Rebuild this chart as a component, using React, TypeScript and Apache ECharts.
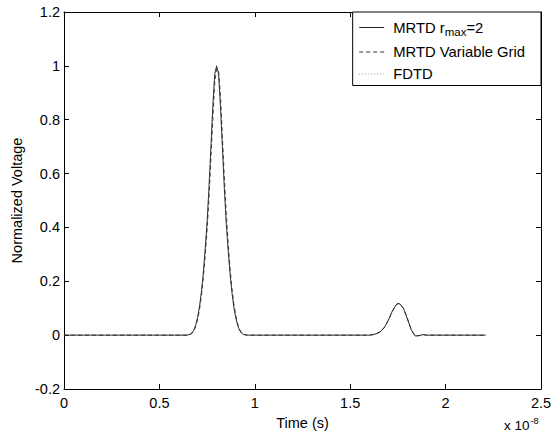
import React, { useEffect, useRef } from "react";
import * as echarts from "echarts";

// time in units of 1e-8 s
const timeAxis = [
  0, 0.5, 0.6, 0.64,
  0.65, 0.66, 0.67, 0.68, 0.69, 0.7, 0.71, 0.72, 0.73, 0.74, 0.75, 0.76, 0.77, 0.78, 0.79, 0.8,
  0.81, 0.82, 0.83, 0.84, 0.85, 0.86, 0.87, 0.88, 0.89, 0.9, 0.91, 0.92, 0.93, 0.94, 0.95, 0.96,
  1.0, 1.5, 1.6,
  1.62, 1.64, 1.66, 1.68, 1.7, 1.72, 1.74,
  1.75,
  1.76, 1.78, 1.8, 1.82, 1.84, 1.86, 1.88, 1.9,
  2.0, 2.21,
];

const mrtdValues = [
  0, 0, 0, 0,
  0.001, 0.003, 0.008, 0.018, 0.037, 0.065, 0.105, 0.16, 0.23, 0.32, 0.42, 0.55, 0.7, 0.85, 0.97, 1.0,
  0.97, 0.85, 0.7, 0.55, 0.42, 0.32, 0.23, 0.16, 0.105, 0.065, 0.037, 0.018, 0.008, 0.003, 0.001, 0,
  0, 0, 0,
  0.002, 0.006, 0.014, 0.03, 0.056, 0.088, 0.112,
  0.118,
  0.116, 0.098, 0.06, 0.02, -0.003, -0.002, 0.002, 0,
  0, 0,
];

const variableGridValues = [
  0, 0, 0, 0,
  0.001, 0.002, 0.006, 0.015, 0.031, 0.057, 0.094, 0.145, 0.21, 0.295, 0.39, 0.51, 0.655, 0.8, 0.935, 0.99,
  0.985, 0.89, 0.74, 0.59, 0.455, 0.345, 0.25, 0.175, 0.117, 0.074, 0.043, 0.022, 0.01, 0.004, 0.001, 0,
  0, 0, 0,
  0.002, 0.006, 0.014, 0.029, 0.055, 0.087, 0.111,
  0.117,
  0.116, 0.099, 0.061, 0.021, -0.003, -0.002, 0.002, 0,
  0, 0,
];

const fdtdValues = [
  0, 0, 0, 0,
  0.001, 0.003, 0.008, 0.018, 0.037, 0.065, 0.105, 0.16, 0.23, 0.32, 0.42, 0.55, 0.7, 0.85, 0.965, 0.995,
  0.97, 0.855, 0.705, 0.555, 0.425, 0.322, 0.232, 0.162, 0.106, 0.066, 0.038, 0.018, 0.008, 0.003, 0.001, 0,
  0, 0, 0,
  0.002, 0.006, 0.014, 0.03, 0.056, 0.088, 0.112,
  0.118,
  0.116, 0.098, 0.06, 0.02, -0.003, -0.002, 0.002, 0,
  0, 0,
];

const seriesNames = ["MRTD r_max=2", "MRTD Variable Grid", "FDTD"];
const yTicks = [-0.2, 0, 0.2, 0.4, 0.6, 0.8, 1.0, 1.2];

const FONT = "Liberation Sans";

export default function App() {
  const ref = useRef<HTMLDivElement>(null);
  useEffect(() => {
    if (!ref.current) return;
    const chart = echarts.init(ref.current, null, { renderer: "svg" });
    const pair = (vals: number[]) => timeAxis.map((t, i) => [t, vals[i]]);
    const axisLine = { show: true, onZero: false, lineStyle: { color: "#000", width: 1 } };
    const tick = { show: true, inside: true, length: 5, lineStyle: { color: "#000" } };
    chart.setOption({
      animation: false,
      backgroundColor: "#fff",
      textStyle: { fontFamily: FONT },
      grid: { left: 64, right: 17, top: 12, bottom: 46, containLabel: false },
      legend: {
        right: 17,
        top: 12,
        orient: "vertical",
        data: seriesNames,
        itemWidth: 25,
        itemHeight: 14,
        itemGap: 7,
        padding: [8, 16, 4, 6],
        backgroundColor: "#fff",
        borderColor: "#000",
        borderWidth: 1,
        borderRadius: 0,
        itemStyle: { opacity: 0 },
        lineStyle: { width: 1 },
        formatter: (name: string) =>
          name === "MRTD r_max=2" ? "MRTD r{sub|max}=2" : name,
        textStyle: {
          fontFamily: FONT,
          fontSize: 14.8,
          color: "#000",
          padding: [0, 0, 0, 4],
          rich: {
            sub: { fontFamily: FONT, fontSize: 11.5, color: "#000", padding: [8, 0, 0, 0] },
          },
        },
      },
      xAxis: [
        {
          type: "value",
          min: 0,
          max: 2.5,
          interval: 0.5,
          axisLine,
          axisTick: tick,
          splitLine: { show: false },
          axisLabel: {
            color: "#000",
            fontSize: 14.5,
            fontFamily: FONT,
            margin: 6,
            formatter: (v: number) => String(+v.toFixed(1)),
          },
          name: "Time (s)",
          nameLocation: "middle",
          nameGap: 26,
          nameTextStyle: { color: "#000", fontSize: 14.5, fontFamily: FONT },
        },
        {
          type: "value",
          position: "top",
          min: 0,
          max: 2.5,
          interval: 0.5,
          axisLine,
          axisTick: tick,
          axisLabel: { show: false },
          splitLine: { show: false },
        },
      ],
      yAxis: [
        {
          type: "value",
          min: -0.2,
          max: 1.2,
          interval: 0.2,
          axisLine,
          axisTick: tick,
          splitLine: { show: false },
          axisLabel: {
            color: "#000",
            fontSize: 14.5,
            fontFamily: FONT,
            margin: 4,
            padding: [5, 0, 0, 0],
            formatter: (v: number) => {
              const r = +v.toFixed(1);
              return yTicks.includes(r) ? String(r) : "";
            },
          },
          name: "Normalized Voltage",
          nameLocation: "middle",
          nameGap: 35,
          nameTextStyle: { color: "#000", fontSize: 14.5, fontFamily: FONT },
        },
        {
          type: "value",
          position: "right",
          min: -0.2,
          max: 1.2,
          interval: 0.2,
          axisLine,
          axisTick: tick,
          axisLabel: { show: false },
          splitLine: { show: false },
        },
      ],
      graphic: [
        {
          type: "text",
          left: 504,
          top: 416,
          style: {
            text: "x 10{sup|-8}",
            fill: "#000",
            font: `13.5px ${FONT}`,
            rich: {
              sup: { fontFamily: FONT, fontSize: 9, fill: "#000", padding: [0, 0, 10, 1] },
            },
          },
        },
      ],
      series: [
        {
          name: seriesNames[0],
          type: "line",
          data: pair(mrtdValues),
          symbol: "none",
          lineStyle: { color: "#222", width: 0.9, type: "solid" },
          itemStyle: { color: "#222" },
          z: 3,
        },
        {
          name: seriesNames[1],
          type: "line",
          data: pair(variableGridValues),
          symbol: "none",
          lineStyle: { color: "#333", width: 0.9, type: [4, 3] },
          itemStyle: { color: "#333" },
          z: 2,
        },
        {
          name: seriesNames[2],
          type: "line",
          data: pair(fdtdValues),
          symbol: "none",
          lineStyle: { color: "#999", width: 0.8, type: [1, 2] },
          itemStyle: { color: "#999" },
          z: 1,
        },
      ],
    });
    return () => chart.dispose();
  }, []);
  return (
    <div
      ref={ref}
      style={{ position: "fixed", left: 0, top: 0, width: 558, height: 435 }}
    />
  );
}
